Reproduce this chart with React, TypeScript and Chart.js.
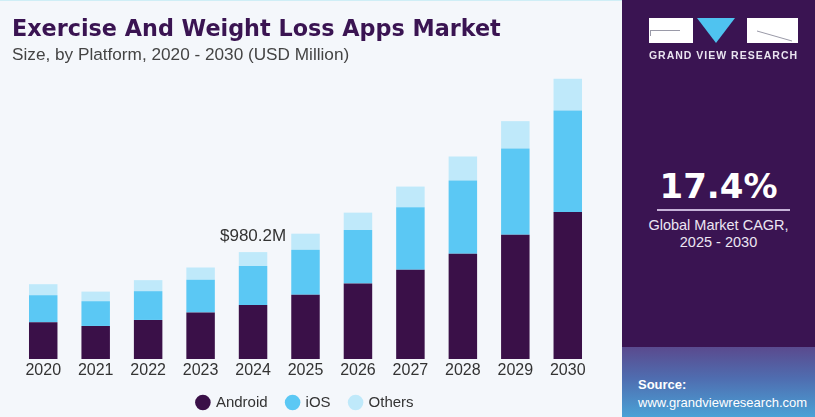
import React, { useEffect, useRef } from "react";
import { Chart, registerables } from "chart.js";

Chart.register(...registerables);

// Market size by platform, USD million
const years = ["2020", "2021", "2022", "2023", "2024", "2025", "2026", "2027", "2028", "2029", "2030"];
const android = [337, 303, 358, 426, 496, 588, 692, 818, 965, 1140, 1348];
const ios = [248, 227, 264, 300, 356, 414, 491, 573, 671, 790, 931];
const others = [101, 88, 101, 113, 128.2, 147, 159, 190, 221, 251, 291];
const seriesNames = ["Android", "iOS", "Others"];
const seriesColors = ["#3a1048", "#5bc8f4", "#bfe9fa"];
const labeledYear = "2024";

const FONT = "'Liberation Sans', Arial, sans-serif";
const HEAVY = "'DejaVu Sans', 'Liberation Sans', sans-serif";

// Writes the total above the highlighted year's stack
const totalLabelPlugin = {
  id: "totalLabel",
  afterDatasetsDraw(chart: any) {
    const idx = years.indexOf(labeledYear);
    const top = chart.getDatasetMeta(chart.data.datasets.length - 1).data[idx];
    const total = android[idx] + ios[idx] + others[idx];
    const ctx = chart.ctx;
    ctx.save();
    ctx.font = `17px ${FONT}`;
    ctx.fillStyle = "#333333";
    ctx.textAlign = "center";
    ctx.textBaseline = "alphabetic";
    ctx.fillText(`$${total.toFixed(1)}M`, top.x, top.y - 11);
    ctx.restore();
  },
};

function MarketChart() {
  const ref = useRef<HTMLCanvasElement | null>(null);
  useEffect(() => {
    if (!ref.current) return;
    const values = [android, ios, others];
    const baseLabels = Chart.defaults.plugins.legend.labels.generateLabels;
    const chart = new Chart(ref.current, {
      type: "bar",
      data: {
        labels: years,
        datasets: values.map((v, i) => ({
          label: seriesNames[i],
          data: v,
          backgroundColor: seriesColors[i],
          borderWidth: 0,
          categoryPercentage: 1,
          barPercentage: 0.543,
        })),
      },
      options: {
        animation: false,
        responsive: true,
        maintainAspectRatio: false,
        layout: { padding: { left: 17, right: 28, top: 70, bottom: 0 } },
        scales: {
          x: {
            stacked: true,
            grid: { display: false, drawTicks: false },
            border: { display: false },
            ticks: {
              color: "#333333",
              font: { family: FONT, size: 16, lineHeight: 0.03 },
              padding: 11.76,
            },
          },
          y: {
            stacked: true,
            display: false,
            min: 0,
            max: 2650,
          },
        },
        plugins: {
          legend: {
            position: "bottom",
            labels: {
              usePointStyle: true,
              pointStyle: "circle",
              boxWidth: 11,
              boxHeight: 11,
              padding: 12,
              color: "#333333",
              font: { family: FONT, size: 15 },
              // a little extra room after each entry except the last
              generateLabels: (c: any) =>
                baseLabels(c).map((item: any, i: number, arr: any[]) => ({
                  ...item,
                  text: i < arr.length - 1 ? item.text + "\u2002" : item.text,
                })),
            },
          },
          tooltip: { enabled: false },
        },
      },
      plugins: [totalLabelPlugin],
    });
    return () => chart.destroy();
  }, []);
  return (
    <div style={{ position: "absolute", left: 0, top: 0, width: 622, height: 420 }}>
      <canvas ref={ref} />
    </div>
  );
}

function SidePanel() {
  return (
    <div
      style={{
        position: "absolute",
        left: 622,
        top: 0,
        width: 193,
        height: 417,
        background: "#3a1452",
        fontFamily: FONT,
        color: "#ffffff",
        overflow: "hidden",
      }}
    >
      {/* logo blocks */}
      <div style={{ position: "absolute", left: 27, top: 18, width: 44, height: 25, background: "#ffffff" }}>
        <div style={{ position: "absolute", left: 1, top: 12, width: 30, height: 1, background: "#9a9aa8" }} />
        <div style={{ position: "absolute", left: 1, top: 12, width: 1, height: 6, background: "#9a9aa8" }} />
      </div>
      <svg style={{ position: "absolute", left: 75, top: 18 }} width="38" height="25">
        <polygon points="0,0 38,0 19,25" fill="#4fc3f0" />
      </svg>
      <div style={{ position: "absolute", left: 125, top: 18, width: 51, height: 25, background: "#ffffff" }}>
        <svg style={{ position: "absolute", left: 0, top: 0 }} width="51" height="25">
          <line x1="10" y1="13" x2="45" y2="23" stroke="#9a9aa8" strokeWidth="1" />
        </svg>
      </div>
      <div
        style={{
          position: "absolute",
          left: 22,
          top: 49,
          width: 159,
          textAlign: "center",
          fontSize: 10.5,
          fontWeight: 700,
          letterSpacing: 1,
          color: "#e9e4f0",
          whiteSpace: "nowrap",
        }}
      >
        GRAND VIEW RESEARCH
      </div>

      {/* CAGR */}
      <div
        style={{
          position: "absolute",
          left: 0,
          top: 166,
          width: 193,
          textAlign: "center",
          fontFamily: HEAVY,
          fontSize: 34,
          fontWeight: 700,
          lineHeight: "40px",
        }}
      >
        17.4%
      </div>
      <div style={{ position: "absolute", left: 35, top: 209, width: 133, height: 2, background: "#c6b3d8" }} />
      <div
        style={{
          position: "absolute",
          left: 0,
          top: 217,
          width: 193,
          textAlign: "center",
          fontSize: 14.5,
          lineHeight: "17px",
          color: "#ece6f2",
        }}
      >
        Global Market CAGR,
        <br />
        2025 - 2030
      </div>

      {/* source strip */}
      <div
        style={{
          position: "absolute",
          left: 0,
          top: 347,
          width: 193,
          height: 70,
          background: "linear-gradient(180deg, #5a4a8e 0%, #4f6db0 45%, #4aa2d6 100%)",
        }}
      />
      <div style={{ position: "absolute", left: 16, top: 377, fontSize: 13, fontWeight: 700, lineHeight: "16px" }}>
        Source:
      </div>
      <div style={{ position: "absolute", left: 16, top: 395, fontSize: 13, lineHeight: "16px", whiteSpace: "nowrap" }}>
        www.grandviewresearch.com
      </div>
    </div>
  );
}

export default function App() {
  return (
    <div
      style={{
        position: "fixed",
        left: 0,
        top: 0,
        width: 815,
        height: 417,
        background: "#f4f7fb",
        overflow: "hidden",
      }}
    >
      <div style={{ position: "absolute", left: 0, top: 0, width: 815, height: 1, background: "#cfeef6" }} />
      <MarketChart />
      <div
        style={{
          position: "absolute",
          left: 12,
          top: 14,
          fontFamily: HEAVY,
          fontSize: 22.3,
          fontWeight: 700,
          color: "#3a1452",
          whiteSpace: "nowrap",
          lineHeight: "28px",
        }}
      >
        Exercise And Weight Loss Apps Market
      </div>
      <div
        style={{
          position: "absolute",
          left: 12,
          top: 44,
          fontFamily: FONT,
          fontSize: 17.2,
          color: "#444444",
          whiteSpace: "nowrap",
          lineHeight: "20px",
        }}
      >
        Size, by Platform, 2020 - 2030 (USD Million)
      </div>
      <SidePanel />
    </div>
  );
}
